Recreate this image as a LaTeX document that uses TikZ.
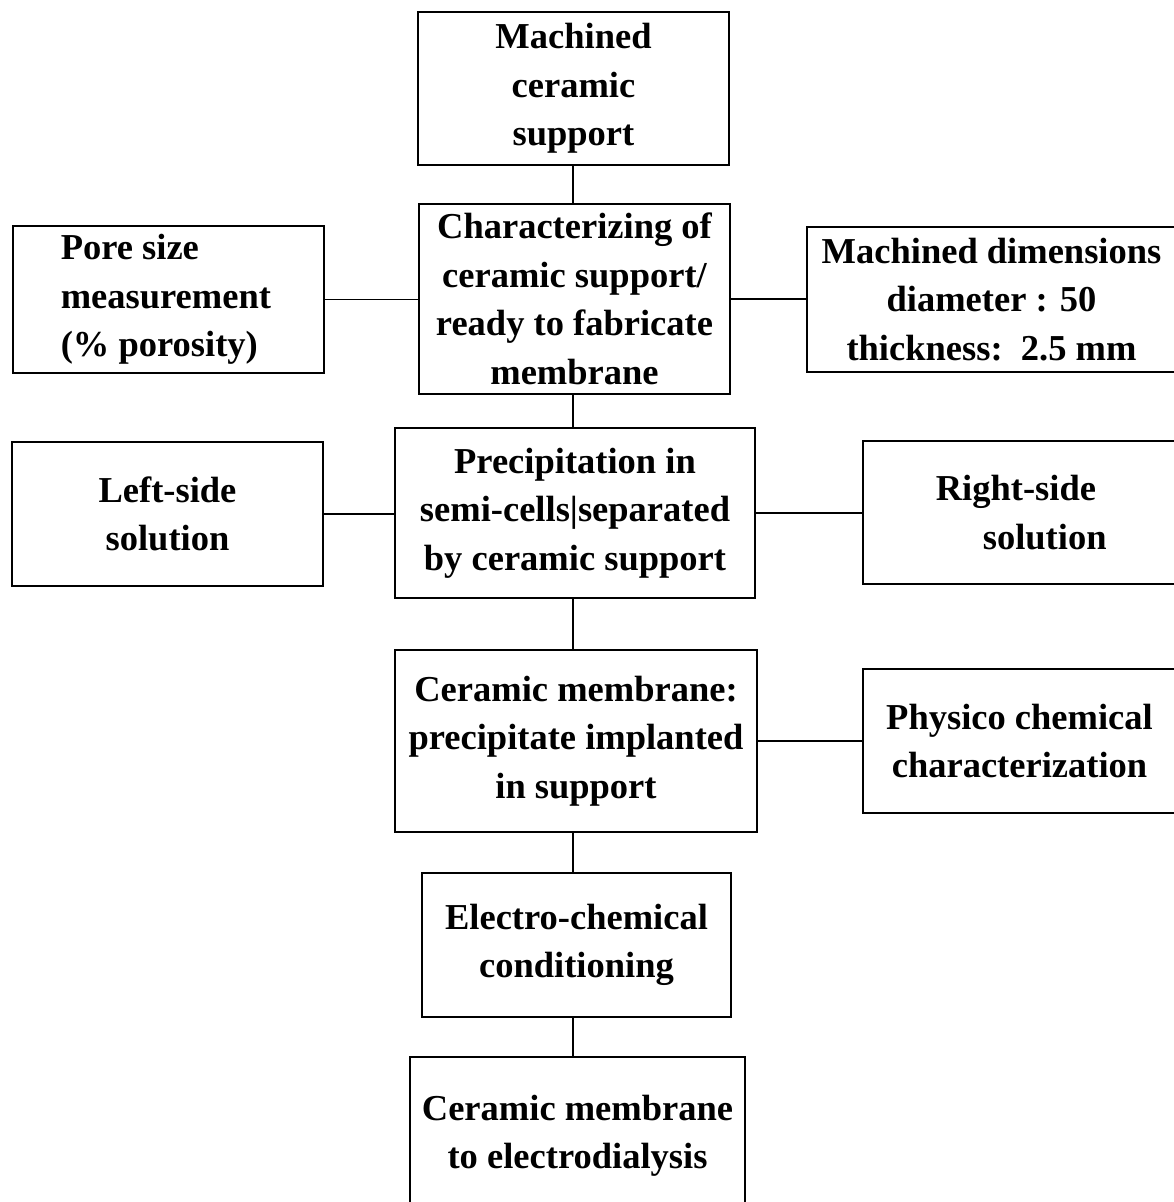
\documentclass[tikz,border=0pt]{standalone}
\usepackage{fontspec}
\setmainfont{Liberation Serif}
\begin{document}
\begin{tikzpicture}[x=1pt,y=-1pt,
  box/.style={draw=black, line width=1.6pt, rectangle, inner sep=0pt, align=center,
    font=\fontsize{36.5}{48.5}\selectfont\bfseries},
  lbox/.style={draw=black, line width=1.6pt, rectangle, inner ysep=0pt, align=flush left,
    font=\fontsize{36.5}{48.5}\selectfont\bfseries},
  link/.style={draw=black, line width=1.6pt}]
\useasboundingbox (0,0) rectangle (1174,1202);
\clip (0,0) rectangle (1174,1202);
\coordinate (spine) at (573,0);
% main column
\node[box, minimum width=311pt, minimum height=153pt] (b1) at (573.5,88.5) {Machined\\ceramic\\support};
\node[box, minimum width=311pt, minimum height=190pt] (b2) at (574.5,299) {Characterizing of\\ceramic support/\\ready to fabricate\\membrane};
\node[box, minimum width=360pt, minimum height=170pt] (b3) at (575,513) {Precipitation in\\semi-cells|separated\\by ceramic support};
\node[box, minimum width=362pt, minimum height=182pt] (b4) at (576,741) {Ceramic membrane:\\precipitate implanted\\in support};
\node[box, minimum width=309pt, minimum height=144pt] (b5) at (576.5,945) {Electro-chemical\\conditioning};
\node[box, minimum width=335pt, minimum height=158pt] (b6) at (577.5,1136) {Ceramic membrane\\to electrodialysis};
% side boxes
\node[lbox, anchor=west, inner xsep=48pt, text width=215pt, minimum height=147pt] (pore) at (12,299.5) {Pore size\\measurement\\(\% porosity)};
\node[box, minimum width=369pt, minimum height=145pt] (dims) at (991.5,299.5) {Machined dimensions\\diameter : 50\\thickness:\ \ 2.5 mm};
\node[box, minimum width=311pt, minimum height=144pt] (ls) at (167.5,514) {Left-side\\solution};
\node[lbox, anchor=west, inner xsep=73pt, text width=240pt, minimum height=143pt] (rs) at (862,512.5) {Right-side\\\hspace*{47pt}solution};
\node[box, minimum width=313pt, minimum height=144pt] (phys) at (1019.5,741) {Physico chemical\\characterization};
% connectors
\draw[link] (b1.south -| spine) -- (b2.north -| spine);
\draw[link] (b2.south -| spine) -- (b3.north -| spine);
\draw[link] (b3.south -| spine) -- (b4.north -| spine);
\draw[link] (b4.south -| spine) -- (b5.north -| spine);
\draw[link] (b5.south -| spine) -- (b6.north -| spine);
\draw[link] (pore.east) -- (pore.east -| b2.west);
\draw[link] (b2.east) -- (b2.east -| dims.west);
\draw[link] (ls.east) -- (ls.east -| b3.west);
\draw[link] (b3.east) -- (b3.east -| rs.west);
\draw[link] (b4.east) -- (b4.east -| phys.west);
\end{tikzpicture}
\end{document}
